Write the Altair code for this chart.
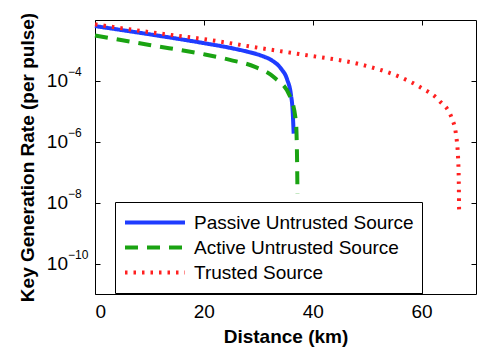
import altair as alt
import pandas as pd

series_names = ["Passive Untrusted Source", "Active Untrusted Source", "Trusted Source"]
colors = ["#1f3cff", "#1aa312", "#ff2020"]

passive_km = [0, 10, 20, 25, 28, 30.5, 32.5, 34.2, 35.3, 36.0, 36.3, 36.5]
passive_rate = [6.31e-3, 3.39e-3, 1.74e-3, 1.20e-3, 9.1e-4, 6.8e-4, 4.7e-4, 2.5e-4, 1.12e-4, 3.5e-5, 1.12e-5, 1.86e-6]

active_km = [0, 10.0, 20.2, 24.8, 29.4, 33.0, 35.8, 36.9, 37.1, 37.2]
active_rate = [3.1e-3, 1.51e-3, 7.4e-4, 4.9e-4, 2.9e-4, 1.26e-4, 3.2e-5, 4.9e-6, 5.1e-7, 2.0e-8]

trusted_km = [0, 10.0, 21.1, 30.3, 38.6, 48.7, 56.0, 59.7, 63.3, 65.5, 66.4, 66.8, 66.9]
trusted_rate = [7.2e-3, 4.0e-3, 2.2e-3, 1.2e-3, 7.1e-4, 3.5e-4, 1.35e-4, 6.3e-5, 2.2e-5, 6.3e-6, 1.4e-6, 1.15e-7, 4.0e-9]

x_ticks = [0, 20, 40, 60]
y_ticks = [1e-4, 1e-6, 1e-8, 1e-10]
y_exponents = ["\u22124", "\u22126", "\u22128", "\u221210"]

rows = []
for name, xs, ys in [(series_names[0], passive_km, passive_rate),
                     (series_names[1], active_km, active_rate),
                     (series_names[2], trusted_km, trusted_rate)]:
    for i, (x, y) in enumerate(zip(xs, ys)):
        rows.append({"series": name, "km": x, "rate": y, "order": i})
df = pd.DataFrame(rows)
ticks_df = pd.DataFrame({"v": y_ticks, "base": ["10"] * len(y_ticks), "exp": y_exponents})

FONT = "Liberation Sans"
xscale = alt.Scale(domain=[0, 70], nice=False, zero=False)
yscale = alt.Scale(type="log", domain=[1e-11, 1e-2], nice=False)

leg = alt.Legend(
    title=None, orient="none", legendX=20, legendY=182, direction="vertical",
    strokeColor="black", fillColor="white", padding=8, cornerRadius=0,
    labelFontSize=19, labelFont=FONT, labelColor="black", labelOffset=7,
    symbolType="stroke", symbolSize=3600, clipHeight=25, rowPadding=0, labelLimit=400,
)

lines = alt.Chart(df).mark_line(interpolate="monotone").encode(
    x=alt.X("km:Q", scale=xscale, axis=alt.Axis(
        title="Distance (km)", values=x_ticks, orient="bottom", offset=-5, tickSize=5,
        domain=False, grid=False, labelPadding=8, titlePadding=6, format="d")),
    y=alt.Y("rate:Q", scale=yscale, axis=alt.Axis(
        title="Key Generation Rate (per pulse)", values=y_ticks, orient="left", offset=-5,
        tickSize=5, labels=False, domain=False, grid=False, titlePadding=57)),
    color=alt.Color("series:N", scale=alt.Scale(domain=series_names, range=colors), legend=leg),
    strokeDash=alt.StrokeDash("series:N", scale=alt.Scale(
        domain=series_names, range=[[1, 0], [13, 9], [2.5, 6]]), legend=leg),
    strokeWidth=alt.StrokeWidth("series:N", scale=alt.Scale(
        domain=series_names, range=[4, 4, 2.2]), legend=leg),
    order="order:Q",
)

frame = alt.Chart(df).mark_line(opacity=0).encode(
    x=alt.X("km:Q", scale=xscale, axis=alt.Axis(
        title=None, values=x_ticks, orient="top", offset=-5, tickSize=5,
        labels=False, domain=False, grid=False)),
    y=alt.Y("rate:Q", scale=yscale, axis=alt.Axis(
        title=None, values=y_ticks, orient="right", offset=-5, tickSize=5,
        labels=False, domain=False, grid=False)),
    detail="series:N",
)

base_lbl = alt.Chart(ticks_df).mark_text(
    align="right", baseline="middle", fontSize=19, font=FONT, color="black"
).encode(x=alt.value(-27), y=alt.Y("v:Q", scale=yscale, axis=None), text="base:N")

exp_lbl = alt.Chart(ticks_df).mark_text(
    align="left", baseline="middle", fontSize=12, font=FONT, color="black", dy=-9
).encode(x=alt.value(-27), y=alt.Y("v:Q", scale=yscale, axis=None), text="exp:N")

chart = alt.layer(lines, frame, base_lbl, exp_lbl).resolve_axis(
    x="independent", y="independent"
).properties(
    width=381, height=274, background="white",
    autosize=alt.AutoSizeParams(type="none"),
    padding={"left": 87, "top": 12, "right": 7, "bottom": 56},
).configure_view(stroke="black", strokeWidth=1).configure_axis(
    tickColor="black", tickWidth=1, labelColor="black", labelFont=FONT, labelFontSize=19,
    titleFont=FONT, titleFontSize=19, titleFontWeight="bold", titleColor="black",
)

chart.save("out.html", embed_options={"renderer": "svg", "actions": False})
